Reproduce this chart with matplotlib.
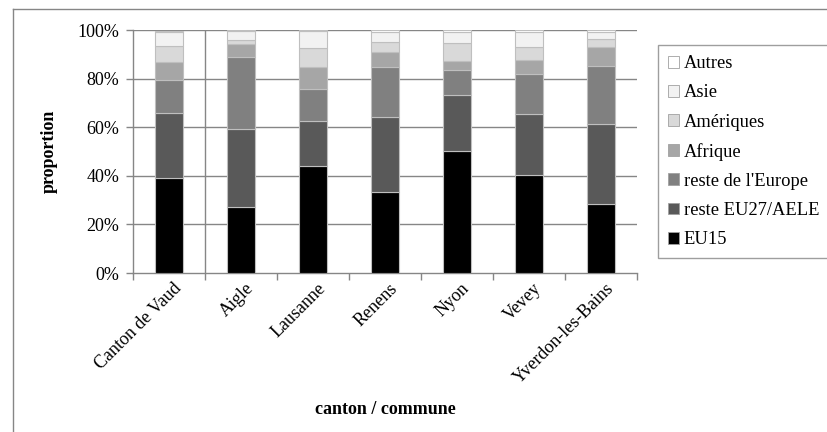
import matplotlib
matplotlib.use("Agg")
import matplotlib.pyplot as plt
from matplotlib.patches import Patch
from matplotlib.lines import Line2D
from matplotlib.transforms import ScaledTranslation
import numpy as np

plt.rcParams['font.family'] = ['Liberation Serif', 'DejaVu Serif']

categories = ["Canton de Vaud", "Aigle", "Lausanne", "Renens", "Nyon", "Vevey",
              "Yverdon-les-Bains"]

eu15 = [39.3, 27.1, 44.1, 33.4, 50.3, 40.4, 28.3]
reste_eu27 = [26.5, 32.4, 18.7, 30.8, 22.9, 25.1, 33.0]
reste_europe = [13.8, 29.6, 12.9, 20.8, 10.3, 16.5, 24.0]
afrique = [7.2, 5.1, 9.3, 6.2, 3.7, 5.8, 7.9]
ameriques = [6.9, 1.9, 7.8, 4.0, 7.4, 5.2, 3.1]
asie = [5.8, 3.6, 6.9, 4.1, 4.6, 6.4, 3.1]
autres = [0.4, 0.3, 0.3, 0.7, 0.8, 0.6, 0.6]

series = [
    ("EU15", eu15, "#000000"),
    ("reste EU27/AELE", reste_eu27, "#595959"),
    ("reste de l'Europe", reste_europe, "#808080"),
    ("Afrique", afrique, "#a6a6a6"),
    ("Amériques", ameriques, "#d9d9d9"),
    ("Asie", asie, "#f2f2f2"),
    ("Autres", autres, "#ffffff"),
]

W, H = 827, 432
fig = plt.figure(figsize=(W / 100, H / 100), dpi=100)

# outer chart frame
frame_col = "#868686"
fig.add_artist(Line2D([13 / W, 13 / W], [-0.1, 1 - 9 / H], transform=fig.transFigure,
                      color=frame_col, lw=1.0))
fig.add_artist(Line2D([13 / W, 1.1], [1 - 9 / H, 1 - 9 / H], transform=fig.transFigure,
                      color=frame_col, lw=1.0))

left, right, top, bottom = 133, 637, 30.3, 273
ax = fig.add_axes([left / W, 1 - bottom / H, (right - left) / W, (bottom - top) / H])

x = np.arange(len(categories))
base = np.zeros(len(categories))
handles = []
for name, vals, col in series:
    vals = np.array(vals)
    ax.bar(x, vals, width=0.4, bottom=base, color=col, edgecolor="#bfbfbf",
           linewidth=0.8, zorder=3)
    base += vals
    handles.append(Patch(facecolor=col, edgecolor="#a0a0a0", linewidth=0.6, label=name))

ax.set_xlim(-0.5, len(categories) - 0.5)
ax.set_ylim(0, 100)

grid_col = "#868686"
for yv in range(20, 101, 20):
    ax.axhline(yv, color=grid_col, lw=1.0, zorder=1)
ax.axvline(0.5, color=grid_col, lw=1.0, zorder=1)

for s in ["top", "right"]:
    ax.spines[s].set_visible(False)
for s in ["left", "bottom"]:
    ax.spines[s].set_color(grid_col)
    ax.spines[s].set_linewidth(1.0)

ax.set_yticks(range(0, 101, 20))
ax.set_yticklabels([f"{v}%" for v in range(0, 101, 20)], fontsize=13)
ax.tick_params(axis="y", length=5, color=grid_col, width=1.0, pad=5)

ax.set_xticks(x)
ax.set_xticklabels(categories, rotation=45, ha="right", rotation_mode="anchor", fontsize=13)
ax.tick_params(axis="x", which="major", length=0, pad=5)
shift = ScaledTranslation(4 / 100, 0, fig.dpi_scale_trans)
for lbl in ax.get_xticklabels():
    lbl.set_transform(lbl.get_transform() + shift)
ax.set_xticks(np.arange(-0.5, len(categories), 1.0), minor=True)
ax.tick_params(axis="x", which="minor", length=5, color=grid_col, width=1.0)

ax.set_ylabel("proportion", fontsize=13, fontweight="bold", labelpad=14)
ax.set_xlabel("canton / commune", fontsize=13, fontweight="bold", labelpad=10)

leg = fig.legend(handles=handles[::-1], loc="upper left",
                 bbox_to_anchor=(658 / W, 1 - 45 / H), frameon=True, fancybox=False,
                 fontsize=13.3, handlelength=0.6, handleheight=0.6, handletextpad=0.25,
                 labelspacing=0.66, borderpad=0.55, borderaxespad=0)
leg.get_frame().set_edgecolor(grid_col)
leg.get_frame().set_linewidth(1.0)

fig.savefig("out.png", dpi=100)
